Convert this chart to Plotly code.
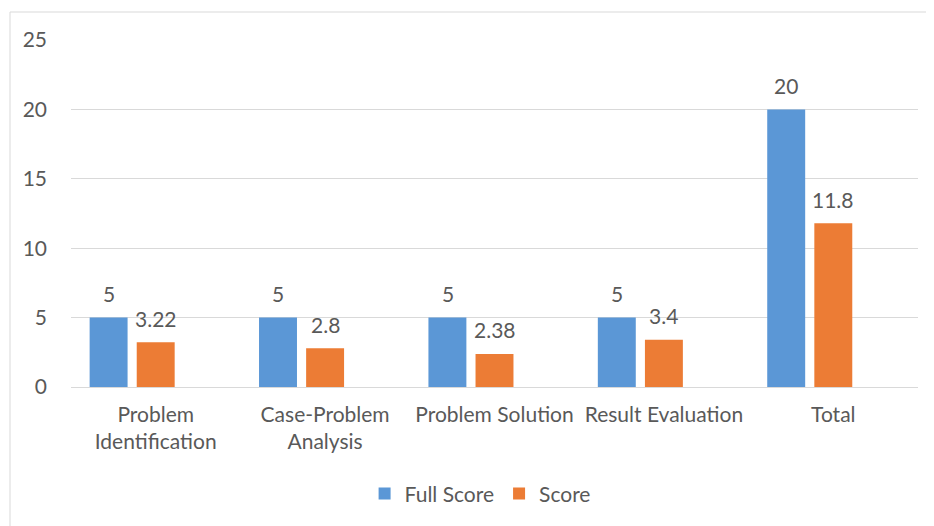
import plotly.graph_objects as go

categories = ["Problem<br>Identification", "Case-Problem<br>Analysis", "Problem Solution", "Result Evaluation", "Total"]
full_score = [5, 5, 5, 5, 20]
score = [3.22, 2.8, 2.38, 3.4, 11.8]
y_ticks = [0, 5, 10, 15, 20, 25]

BLUE = "#5b97d6"
ORANGE = "#ec7c35"
TXT = "#595959"
FONT = "Lato"
FS = 21

fig = go.Figure()
fig.add_trace(go.Bar(name="Full Score", x=categories, y=full_score, marker=dict(color=BLUE, line=dict(width=0)),
                     width=0.224, offset=-0.39, hoverinfo="skip"))
fig.add_trace(go.Bar(name="Score", x=categories, y=score, marker=dict(color=ORANGE, line=dict(width=0)),
                     width=0.224, offset=-0.112, hoverinfo="skip"))

annotations = []
for c, v in zip(categories, full_score):
    annotations.append(dict(x=c, y=v, xref="x", yref="y", text=str(v), showarrow=False,
                            xshift=-47, yshift=24, yanchor="middle",
                            font=dict(family=FONT, size=FS, color=TXT)))
for c, v in zip(categories, score):
    annotations.append(dict(x=c, y=v, xref="x", yref="y", text=str(v), showarrow=False,
                            xshift=0, yshift=24, yanchor="middle",
                            font=dict(family=FONT, size=FS, color=TXT)))

# page body has an 8px margin: plot area spans page x 71..918, y 40..387
fig.update_layout(
    width=926, height=518,
    margin=dict(l=63, r=16, t=32, b=139),
    paper_bgcolor="white", plot_bgcolor="white",
    barmode="group",
    font=dict(family=FONT, size=FS, color=TXT),
    showlegend=True,
    legend=dict(orientation="h", x=0.483, xanchor="center", y=-0.308, yanchor="middle",
                font=dict(family=FONT, size=FS, color=TXT), traceorder="normal"),
    annotations=annotations,
    shapes=[dict(type="rect", xref="paper", yref="paper",
                 x0=(10 - 71) / 847, x1=(940 - 71) / 847,
                 y0=(387 - 530) / 347, y1=(387 - 12) / 347,
                 line=dict(color="#d9d9d9", width=1), fillcolor="rgba(0,0,0,0)", layer="below")],
)
fig.update_xaxes(showgrid=False, showline=False, zeroline=False, ticks="",
                 tickfont=dict(family=FONT, size=FS, color=TXT), ticklabelstandoff=13)
fig.update_yaxes(range=[0, 25], tickvals=y_ticks, showgrid=True, gridcolor="#d9d9d9", gridwidth=1,
                 zeroline=True, zerolinecolor="#d9d9d9", zerolinewidth=1, showline=False,
                 ticks="", ticklabelstandoff=23, tickfont=dict(family=FONT, size=FS, color=TXT))

fig.write_html("out.html")
